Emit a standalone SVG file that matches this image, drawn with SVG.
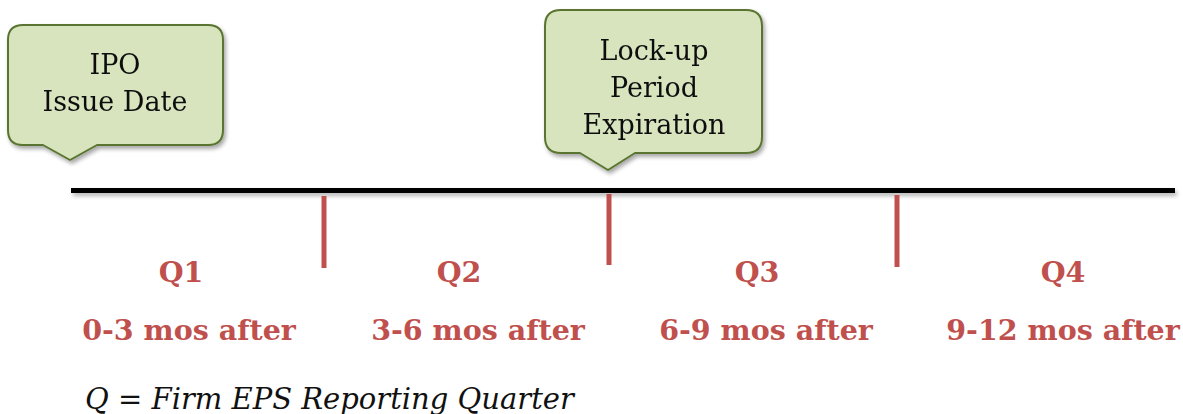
<svg xmlns="http://www.w3.org/2000/svg" width="1183" height="414" viewBox="0 0 1183 414">
<style>
.call{fill:#d7e4bd;stroke:#5a7530;stroke-width:2;stroke-linejoin:round}
.ct{font-family:"DejaVu Serif","Liberation Serif",serif;font-size:27px;fill:#111;text-anchor:middle}
.q{font-family:"DejaVu Serif","Liberation Serif",serif;font-weight:bold;font-size:28.5px;fill:#c0504d;text-anchor:middle}
.tick{stroke:#c0504d;stroke-width:5}
.note{font-family:"DejaVu Serif","Liberation Serif",serif;font-style:italic;font-size:29px;fill:#111}
</style>
<defs>
<filter id="sh" x="-10%" y="-10%" width="130%" height="140%">
<feGaussianBlur in="SourceAlpha" stdDeviation="2"/>
<feOffset dx="2" dy="3"/>
<feComponentTransfer><feFuncA type="linear" slope="0.35"/></feComponentTransfer>
<feMerge><feMergeNode/><feMergeNode in="SourceGraphic"/></feMerge>
</filter>
<filter id="shl" filterUnits="userSpaceOnUse" x="60" y="180" width="1123" height="25">
<feGaussianBlur in="SourceAlpha" stdDeviation="2"/>
<feOffset dx="2" dy="3"/>
<feComponentTransfer><feFuncA type="linear" slope="0.3"/></feComponentTransfer>
<feMerge><feMergeNode/><feMergeNode in="SourceGraphic"/></feMerge>
</filter>
</defs>
<g id="ipo" filter="url(#sh)">
<path class="call" d="M23,25 H208 Q223,25 223,40 V130 Q223,145 208,145 H97 L70,160 L43,145 H23 Q8,145 8,130 V40 Q8,25 23,25 Z"/>
<text class="ct" x="115" y="74">IPO</text>
<text class="ct" x="115" y="111">Issue Date</text>
</g>
<g id="lockup" filter="url(#sh)">
<path class="call" d="M561,10 H746 Q762,10 762,26 V137 Q762,153 746,153 H635 L608,170 L580,153 H561 Q545,153 545,137 V26 Q545,10 561,10 Z"/>
<text class="ct" x="654" y="60">Lock-up</text>
<text class="ct" x="654" y="97">Period</text>
<text class="ct" x="654" y="134">Expiration</text>
</g>
<g id="connectors">
<rect x="71" y="188" width="1104" height="5" fill="#000" filter="url(#shl)"/>
<line class="tick" x1="324" y1="196" x2="324" y2="268"/>
<line class="tick" x1="609" y1="194" x2="609" y2="265"/>
<line class="tick" x1="897" y1="195" x2="897" y2="267"/>
</g>
<g id="q1"><text class="q" x="181" y="282">Q1</text><text class="q" x="189" y="340">0-3 mos after</text></g>
<g id="q2"><text class="q" x="459" y="282">Q2</text><text class="q" x="478" y="340">3-6 mos after</text></g>
<g id="q3"><text class="q" x="757" y="282">Q3</text><text class="q" x="766" y="340">6-9 mos after</text></g>
<g id="q4"><text class="q" x="1063" y="282">Q4</text><text class="q" x="1063" y="340">9-12 mos after</text></g>
<text class="note" x="85" y="409">Q = Firm EPS Reporting Quarter</text>
</svg>
